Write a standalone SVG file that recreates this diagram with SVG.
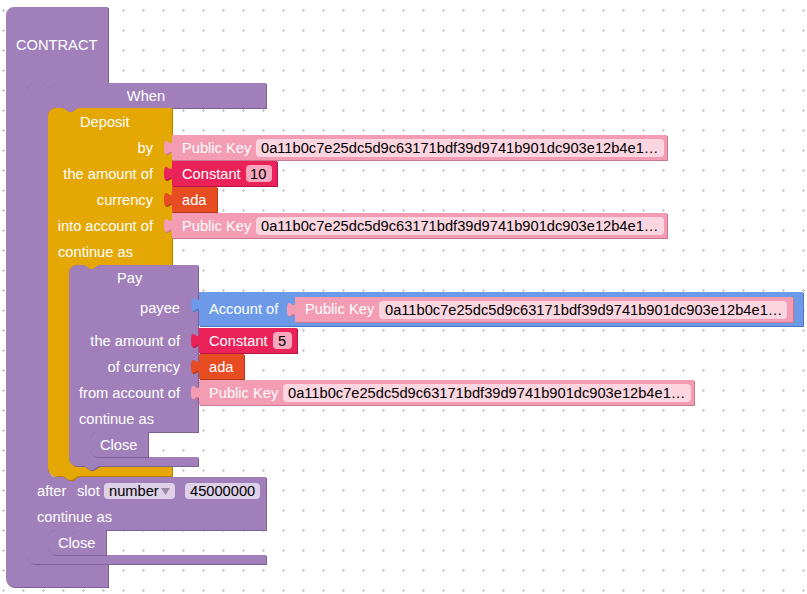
<svg xmlns="http://www.w3.org/2000/svg" width="807" height="594" viewBox="0 0 807 594">
  <defs>
    <style>
      text { font-family: "Liberation Sans", Arial, sans-serif; font-size: 14.67px; }
      .lbl { fill: #ffffff; }
      .val { fill: #000000; }
      .mid { text-anchor: middle; }
      .end { text-anchor: end; }
      .purple { fill: #a17fba; }
      .purple-d { fill: #7d5f95; }
      .gold { fill: #e4a703; }
      .gold-d { fill: #b38300; }
      .pink { fill: #f49cb4; }
      .pink-d { fill: #c7778e; }
      .red { fill: #eb2259; }
      .red-d { fill: #b3173f; }
      .orange { fill: #e84c22; }
      .orange-d { fill: #b33816; }
      .blue { fill: #6c9ae8; }
      .blue-d { fill: #4f77bd; }
      .fld-pk { fill: #fbd5df; }
      .fld-num { fill: #f7a7be; }
      .fld-lav { fill: #ddd0e7; }
    </style>
    <pattern id="dots" x="-7" y="0" width="20" height="20" patternUnits="userSpaceOnUse">
      <rect x="9" y="10" width="3" height="1" fill="#c8c8c8"/>
      <rect x="10" y="9" width="1" height="3" fill="#c8c8c8"/>
    </pattern>

    <!-- statement block outlines -->
    <path id="p-contract" d="M 6,15 a8,8 0 0 1 8,-8 H 108 V 83 H 57 l -6,4 h -3 l -6,-4 H 35 a8,8 0 0 0 -8,8 V 556 a8,8 0 0 0 8,8 H 108 V 587 H 14 a8,8 0 0 1 -8,-8 Z"/>
    <path id="p-when" d="M 27,91 a8,8 0 0 1 8,-8 H 42 l 6,4 h 3 l 6,-4 H 266 V 108 H 78 l -6,4 h -3 l -6,-4 H 56 a8,8 0 0 0 -8,8 V 469 a8,8 0 0 0 8,8 H 266 V 530 H 78 l -6,4 h -3 l -6,-4 H 56 a8,8 0 0 0 -8,8 V 547 a8,8 0 0 0 8,8 H 266 V 564 H 35 a8,8 0 0 1 -8,-8 Z"/>
    <path id="p-deposit" d="M 48,116 a8,8 0 0 1 8,-8 H 63 l 6,4 h 3 l 6,-4 H 172 V 265 H 99 l -6,4 h -3 l -6,-4 H 77 a8,8 0 0 0 -8,8 V 458 a8,8 0 0 0 8,8 H 172 V 476 H 78 l -6,4 h -3 l -6,-4 H 56 a8,8 0 0 1 -8,-8 Z"/>
    <path id="p-pay" d="M 69,273 a8,8 0 0 1 8,-8 H 84 l 6,4 h 3 l 6,-4 H 198 V 432 H 120 l -6,4 h -3 l -6,-4 H 98 a8,8 0 0 0 -8,8 V 449 a8,8 0 0 0 8,8 H 198 V 466 H 99 l -6,4 h -3 l -6,-4 H 77 a8,8 0 0 1 -8,-8 Z"/>
    <path id="p-close1" d="M 90,440 a8,8 0 0 1 8,-8 H 105 l 6,4 h 3 l 6,-4 H 148 V 457 H 98 a8,8 0 0 1 -8,-8 Z"/>
    <path id="p-close2" d="M 48,538 a8,8 0 0 1 8,-8 H 63 l 6,4 h 3 l 6,-4 H 106 V 555 H 56 a8,8 0 0 1 -8,-8 Z"/>

    <!-- value block outlines (puzzle tab on the left edge) -->
    <path id="p-pk1" d="M 172,135 H 667 V 160 H 172 V 155 c 0,-10 -8,8 -8,-7.5 s 8,2.5 8,-7.5 Z"/>
    <path id="p-const1" d="M 172,161 H 277 V 186 H 172 V 181 c 0,-10 -8,8 -8,-7.5 s 8,2.5 8,-7.5 Z"/>
    <path id="p-ada1" d="M 172,187 H 217 V 212 H 172 V 207 c 0,-10 -8,8 -8,-7.5 s 8,2.5 8,-7.5 Z"/>
    <path id="p-pk2" d="M 172,213 H 667 V 238 H 172 V 233 c 0,-10 -8,8 -8,-7.5 s 8,2.5 8,-7.5 Z"/>
    <path id="p-account" d="M 199,292 H 803 V 326 H 199 V 312 c 0,-10 -8,8 -8,-7.5 s 8,2.5 8,-7.5 Z"/>
    <path id="p-pk3" d="M 295,297 H 793 V 322 H 295 V 317 c 0,-10 -8,8 -8,-7.5 s 8,2.5 8,-7.5 Z"/>
    <path id="p-const2" d="M 199,328 H 297 V 353 H 199 V 348 c 0,-10 -8,8 -8,-7.5 s 8,2.5 8,-7.5 Z"/>
    <path id="p-ada2" d="M 199,354 H 244 V 379 H 199 V 374 c 0,-10 -8,8 -8,-7.5 s 8,2.5 8,-7.5 Z"/>
    <path id="p-pk4" d="M 199,380 H 694 V 405 H 199 V 400 c 0,-10 -8,8 -8,-7.5 s 8,2.5 8,-7.5 Z"/>
  </defs>

  <!-- workspace -->
  <rect width="807" height="594" fill="#ffffff"/>
  <rect width="807" height="594" fill="url(#dots)"/>

  <!-- this block tree has no separate connector lines; blocks join by their notches and tabs -->
  <g id="connectors"/>

  <g id="contract">
    <use href="#p-contract" class="purple-d" transform="translate(1,1)"/>
    <use href="#p-contract" class="purple"/>
    <text x="16" y="50" class="lbl">CONTRACT</text>
  </g>

  <g id="when">
    <use href="#p-when" class="purple-d" transform="translate(1,1)"/>
    <use href="#p-when" class="purple"/>
    <text x="146" y="101" class="lbl mid">When</text>
    <text x="37" y="496" class="lbl">after</text>
    <text x="77" y="496" class="lbl">slot</text>
    <rect x="104" y="483" width="71" height="16" rx="4" class="fld-lav"/>
    <text x="109" y="496" class="val">number</text>
    <polygon points="161,488 170,488 165.5,495" fill="#9a8aa6"/>
    <rect x="185" y="483" width="75" height="16" rx="4" class="fld-lav"/>
    <text x="190" y="496" class="val">45000000</text>
    <text x="37" y="522" class="lbl">continue as</text>
  </g>

  <g id="deposit">
    <use href="#p-deposit" class="gold-d" transform="translate(1,1)"/>
    <use href="#p-deposit" class="gold"/>
    <text x="80" y="127" class="lbl">Deposit</text>
    <text x="153" y="153" class="lbl end">by</text>
    <text x="153" y="179" class="lbl end">the amount of</text>
    <text x="153" y="205" class="lbl end">currency</text>
    <text x="153" y="231" class="lbl end">into account of</text>
    <text x="58" y="257" class="lbl">continue as</text>
  </g>

  <g id="deposit-party">
    <use href="#p-pk1" class="pink-d" transform="translate(1,1)"/>
    <use href="#p-pk1" class="pink"/>
    <text x="182" y="153" class="lbl">Public Key</text>
    <rect x="256" y="139" width="408" height="18" rx="4" class="fld-pk"/>
    <text x="261" y="153" class="val">0a11b0c7e25dc5d9c63171bdf39d9741b901dc903e12b4e1…</text>
  </g>

  <g id="deposit-amount">
    <use href="#p-const1" class="red-d" transform="translate(1,1)"/>
    <use href="#p-const1" class="red"/>
    <text x="182" y="179" class="lbl">Constant</text>
    <rect x="246" y="165" width="26" height="17" rx="4" class="fld-num"/>
    <text x="250" y="179" class="val">10</text>
  </g>

  <g id="deposit-currency">
    <use href="#p-ada1" class="orange-d" transform="translate(1,1)"/>
    <use href="#p-ada1" class="orange"/>
    <text x="182" y="205" class="lbl">ada</text>
  </g>

  <g id="deposit-account">
    <use href="#p-pk2" class="pink-d" transform="translate(1,1)"/>
    <use href="#p-pk2" class="pink"/>
    <text x="182" y="231" class="lbl">Public Key</text>
    <rect x="256" y="217" width="408" height="18" rx="4" class="fld-pk"/>
    <text x="261" y="231" class="val">0a11b0c7e25dc5d9c63171bdf39d9741b901dc903e12b4e1…</text>
  </g>

  <g id="pay">
    <use href="#p-pay" class="purple-d" transform="translate(1,1)"/>
    <use href="#p-pay" class="purple"/>
    <text x="117" y="283" class="lbl">Pay</text>
    <text x="180" y="313" class="lbl end">payee</text>
    <text x="180" y="346" class="lbl end">the amount of</text>
    <text x="180" y="372" class="lbl end">of currency</text>
    <text x="180" y="398" class="lbl end">from account of</text>
    <text x="79" y="424" class="lbl">continue as</text>
  </g>

  <g id="pay-payee">
    <use href="#p-account" class="blue-d" transform="translate(1,1)"/>
    <use href="#p-account" class="blue"/>
    <text x="209" y="314" class="lbl">Account of</text>
  </g>

  <g id="pay-payee-key">
    <use href="#p-pk3" class="pink-d" transform="translate(1,1)"/>
    <use href="#p-pk3" class="pink"/>
    <text x="305" y="314" class="lbl">Public Key</text>
    <rect x="379" y="301" width="408" height="18" rx="4" class="fld-pk"/>
    <text x="385" y="315" class="val">0a11b0c7e25dc5d9c63171bdf39d9741b901dc903e12b4e1…</text>
  </g>

  <g id="pay-amount">
    <use href="#p-const2" class="red-d" transform="translate(1,1)"/>
    <use href="#p-const2" class="red"/>
    <text x="209" y="346" class="lbl">Constant</text>
    <rect x="273" y="332" width="19" height="17" rx="4" class="fld-num"/>
    <text x="278" y="346" class="val">5</text>
  </g>

  <g id="pay-currency">
    <use href="#p-ada2" class="orange-d" transform="translate(1,1)"/>
    <use href="#p-ada2" class="orange"/>
    <text x="209" y="372" class="lbl">ada</text>
  </g>

  <g id="pay-from">
    <use href="#p-pk4" class="pink-d" transform="translate(1,1)"/>
    <use href="#p-pk4" class="pink"/>
    <text x="209" y="398" class="lbl">Public Key</text>
    <rect x="283" y="384" width="408" height="18" rx="4" class="fld-pk"/>
    <text x="288" y="398" class="val">0a11b0c7e25dc5d9c63171bdf39d9741b901dc903e12b4e1…</text>
  </g>

  <g id="pay-close">
    <use href="#p-close1" class="purple-d" transform="translate(1,1)"/>
    <use href="#p-close1" class="purple"/>
    <text x="100" y="450" class="lbl">Close</text>
  </g>

  <g id="timeout-close">
    <use href="#p-close2" class="purple-d" transform="translate(1,1)"/>
    <use href="#p-close2" class="purple"/>
    <text x="58" y="548" class="lbl">Close</text>
  </g>
</svg>
